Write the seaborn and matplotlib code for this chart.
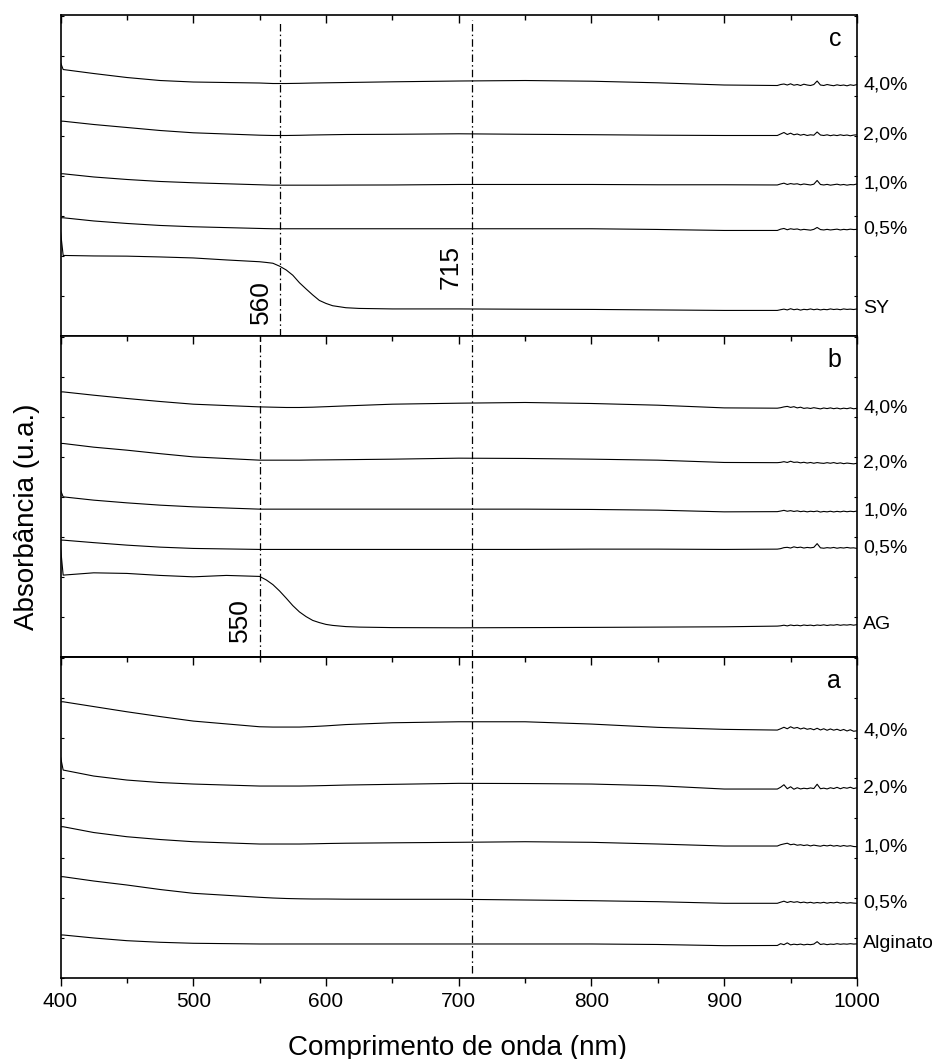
import matplotlib
matplotlib.use("Agg")
import matplotlib.pyplot as plt
from matplotlib.ticker import MultipleLocator
import pandas as pd
import seaborn as sns

# Wavelength grids (nm)
wl_main = [400, 402, 425, 450, 475, 500, 550, 560, 570, 580, 590, 600, 615,
           650, 700, 750, 800, 850, 900, 940]
wl_dye = [400, 402, 425, 450, 475, 500, 525, 550, 555, 560, 565, 570, 575, 580,
          585, 590, 595, 600, 605, 615, 625, 650, 700, 750, 800, 850, 900, 940]
wl_tail = [942.5, 945, 947.5, 950, 952.5, 955, 957.5, 960, 962.5, 965, 967.5, 970,
           972.5, 975, 977.5, 980, 982.5, 985, 987.5, 990, 992.5, 995, 997.5, 1000]

# Panel c: SY series (stacked absorbance, arbitrary units)
c_40 = [2.735, 2.665, 2.625, 2.585, 2.555, 2.54, 2.53, 2.525, 2.525, 2.527, 2.53, 2.532, 2.535,
        2.542, 2.55, 2.555, 2.548, 2.532, 2.51, 2.505]
c_40_tail = [2.515, 2.52, 2.51, 2.522, 2.508, 2.515, 2.505, 2.518, 2.51, 2.505, 2.515, 2.55,
             2.51, 2.505, 2.515, 2.508, 2.503, 2.512, 2.505, 2.51, 2.502, 2.512, 2.506, 2.515]
c_20 = [2.148, 2.148, 2.115, 2.085, 2.055, 2.032, 2.008, 2.005, 2.005, 2.007, 2.01, 2.012, 2.015,
        2.017, 2.022, 2.017, 2.013, 2.008, 2.005, 2.005]
c_20_tail = [2.02, 2.035, 2.015, 2.028, 2.012, 2.02, 2.008, 2.016, 2.005, 2.012, 2.008, 2.04,
             2.01, 2.005, 2.012, 2.003, 2.01, 2.004, 2.012, 2.005, 2.01, 2.002, 2.009, 2.012]
c_10 = [1.622, 1.622, 1.59, 1.565, 1.545, 1.532, 1.512, 1.508, 1.508, 1.508, 1.508, 1.508, 1.509,
        1.51, 1.515, 1.515, 1.515, 1.512, 1.512, 1.51]
c_10_tail = [1.52, 1.528, 1.515, 1.524, 1.518, 1.522, 1.512, 1.52, 1.515, 1.51, 1.518, 1.555,
             1.515, 1.51, 1.516, 1.508, 1.513, 1.518, 1.51, 1.515, 1.508, 1.514, 1.512, 1.52]
c_05 = [1.182, 1.182, 1.15, 1.125, 1.105, 1.092, 1.075, 1.072, 1.072, 1.072, 1.072, 1.072, 1.072,
        1.072, 1.072, 1.072, 1.072, 1.065, 1.055, 1.055]
c_05_tail = [1.068, 1.075, 1.062, 1.072, 1.066, 1.07, 1.06, 1.066, 1.062, 1.058, 1.066, 1.085,
             1.064, 1.06, 1.066, 1.06, 1.064, 1.068, 1.06, 1.066, 1.062, 1.068, 1.064, 1.066]
c_sy = [1.045, 0.805, 0.80, 0.798, 0.79, 0.78, 0.76, 0.742, 0.735, 0.727, 0.698, 0.66, 0.607,
        0.532, 0.47, 0.41, 0.355, 0.325, 0.302, 0.282, 0.275, 0.27, 0.27, 0.267, 0.265, 0.26,
        0.255, 0.255]
c_sy_tail = [0.262, 0.268, 0.26, 0.272, 0.262, 0.268, 0.258, 0.266, 0.262, 0.27, 0.262, 0.268,
             0.26, 0.266, 0.262, 0.27, 0.264, 0.268, 0.262, 0.27, 0.265, 0.268, 0.264, 0.27]

# Panel b: AG series
b_40 = [2.65, 2.65, 2.617, 2.584, 2.554, 2.527, 2.50, 2.497, 2.494, 2.494, 2.497, 2.502, 2.51,
        2.527, 2.537, 2.544, 2.534, 2.517, 2.49, 2.487]
b_40_tail = [2.492, 2.5, 2.505, 2.495, 2.502, 2.49, 2.497, 2.485, 2.49, 2.484, 2.492, 2.486,
             2.48, 2.489, 2.483, 2.49, 2.482, 2.488, 2.48, 2.487, 2.482, 2.49, 2.481, 2.486]
b_20 = [2.134, 2.134, 2.097, 2.067, 2.032, 2.00, 1.967, 1.967, 1.967, 1.967, 1.969, 1.97, 1.972,
        1.977, 1.987, 1.984, 1.977, 1.967, 1.944, 1.942]
b_20_tail = [1.945, 1.952, 1.944, 1.956, 1.945, 1.948, 1.94, 1.946, 1.938, 1.944, 1.936, 1.943,
             1.938, 1.935, 1.942, 1.936, 1.943, 1.934, 1.94, 1.932, 1.938, 1.934, 1.93, 1.936]
b_10 = [1.667, 1.60, 1.567, 1.54, 1.517, 1.50, 1.477, 1.477, 1.477, 1.477, 1.477, 1.477, 1.477,
        1.477, 1.477, 1.477, 1.474, 1.467, 1.45, 1.452]
b_10_tail = [1.458, 1.465, 1.456, 1.462, 1.454, 1.46, 1.452, 1.457, 1.45, 1.456, 1.452, 1.458,
             1.448, 1.454, 1.45, 1.456, 1.449, 1.455, 1.45, 1.457, 1.451, 1.456, 1.452, 1.458]
b_05 = [1.167, 1.167, 1.142, 1.117, 1.097, 1.084, 1.074, 1.074, 1.074, 1.074, 1.074, 1.074, 1.074,
        1.074, 1.074, 1.074, 1.077, 1.077, 1.074, 1.077]
b_05_tail = [1.082, 1.092, 1.095, 1.088, 1.1, 1.092, 1.097, 1.088, 1.094, 1.09, 1.095, 1.132,
             1.09, 1.086, 1.092, 1.088, 1.094, 1.086, 1.092, 1.088, 1.094, 1.088, 1.09, 1.084]
b_ag = [1.097, 0.817, 0.84, 0.834, 0.814, 0.80, 0.814, 0.804, 0.769, 0.722, 0.659, 0.587, 0.512,
        0.449, 0.402, 0.364, 0.342, 0.324, 0.314, 0.302, 0.297, 0.292, 0.29, 0.292, 0.294, 0.297,
        0.30, 0.307]
b_ag_tail = [0.31, 0.316, 0.309, 0.318, 0.312, 0.316, 0.31, 0.318, 0.313, 0.317, 0.311, 0.318,
             0.314, 0.32, 0.313, 0.319, 0.316, 0.322, 0.315, 0.32, 0.317, 0.322, 0.316, 0.322]

# Panel a: alginate series
a_40 = [2.76, 2.76, 2.712, 2.66, 2.612, 2.567, 2.51, 2.507, 2.507, 2.507, 2.512, 2.519, 2.532,
        2.55, 2.56, 2.56, 2.537, 2.504, 2.484, 2.477]
a_40_tail = [2.49, 2.505, 2.49, 2.51, 2.495, 2.503, 2.488, 2.498, 2.485, 2.492, 2.48, 2.495,
             2.478, 2.49, 2.475, 2.488, 2.476, 2.485, 2.472, 2.483, 2.468, 2.48, 2.465, 2.47]
a_20 = [2.21, 2.077, 2.017, 1.977, 1.952, 1.937, 1.917, 1.917, 1.917, 1.917, 1.919, 1.922, 1.927,
        1.934, 1.944, 1.942, 1.937, 1.92, 1.887, 1.887]
a_20_tail = [1.905, 1.93, 1.89, 1.91, 1.885, 1.9, 1.888, 1.895, 1.89, 1.898, 1.892, 1.935,
             1.89, 1.896, 1.888, 1.9, 1.892, 1.904, 1.89, 1.902, 1.895, 1.905, 1.892, 1.9]
a_10 = [1.51, 1.51, 1.452, 1.41, 1.382, 1.36, 1.337, 1.337, 1.337, 1.337, 1.339, 1.342, 1.345,
        1.349, 1.354, 1.36, 1.354, 1.337, 1.317, 1.317]
a_10_tail = [1.33, 1.338, 1.345, 1.33, 1.336, 1.325, 1.33, 1.322, 1.328, 1.318, 1.326, 1.32,
             1.315, 1.324, 1.318, 1.325, 1.316, 1.322, 1.314, 1.322, 1.315, 1.32, 1.312, 1.31]
a_05 = [1.01, 1.01, 0.967, 0.927, 0.882, 0.844, 0.804, 0.797, 0.792, 0.789, 0.787, 0.787, 0.785,
        0.784, 0.784, 0.777, 0.77, 0.76, 0.744, 0.744]
a_05_tail = [0.755, 0.765, 0.752, 0.762, 0.754, 0.76, 0.75, 0.756, 0.748, 0.754, 0.746, 0.752,
             0.747, 0.754, 0.745, 0.752, 0.748, 0.755, 0.746, 0.752, 0.745, 0.75, 0.746, 0.744]
a_alg = [0.427, 0.427, 0.397, 0.37, 0.354, 0.344, 0.337, 0.337, 0.337, 0.337, 0.337, 0.337, 0.337,
         0.337, 0.337, 0.337, 0.337, 0.332, 0.32, 0.322]
a_alg_tail = [0.34, 0.33, 0.348, 0.328, 0.335, 0.33, 0.336, 0.328, 0.334, 0.33, 0.336, 0.36,
              0.332, 0.338, 0.33, 0.336, 0.333, 0.34, 0.334, 0.338, 0.335, 0.34, 0.336, 0.338]

labels_c = ["4,0%", "2,0%", "1,0%", "0,5%", "SY"]
labels_b = ["4,0%", "2,0%", "1,0%", "0,5%", "AG"]
labels_a = ["4,0%", "2,0%", "1,0%", "0,5%", "Alginato"]

panels = [
    ("c", labels_c, [(wl_main, c_40, c_40_tail), (wl_main, c_20, c_20_tail),
                     (wl_main, c_10, c_10_tail), (wl_main, c_05, c_05_tail),
                     (wl_dye, c_sy, c_sy_tail)]),
    ("b", labels_b, [(wl_main, b_40, b_40_tail), (wl_main, b_20, b_20_tail),
                     (wl_main, b_10, b_10_tail), (wl_main, b_05, b_05_tail),
                     (wl_dye, b_ag, b_ag_tail)]),
    ("a", labels_a, [(wl_main, a_40, a_40_tail), (wl_main, a_20, a_20_tail),
                     (wl_main, a_10, a_10_tail), (wl_main, a_05, a_05_tail),
                     (wl_main, a_alg, a_alg_tail)]),
]

x_ticks = [400, 500, 600, 700, 800, 900, 1000]

sns.set_style("ticks")
plt.rcParams["font.family"] = ["Liberation Sans", "DejaVu Sans"]
plt.rcParams.update({"text.color": "black", "axes.edgecolor": "black",
                     "axes.labelcolor": "black", "xtick.color": "black",
                     "ytick.color": "black"})

fig, axes = plt.subplots(3, 1, figsize=(9.38, 10.59), dpi=100, sharex=True,
                         gridspec_kw=dict(hspace=0))
fig.subplots_adjust(left=0.0645, right=0.9136, top=0.9858, bottom=0.0768)

dash_dot = (0, (6, 2.5, 1.2, 2.5))

for ax, (letter, names, series) in zip(axes, panels):
    frames = []
    for name, (grid, vals, tail) in zip(names, series):
        frames.append(pd.DataFrame({"wl": grid + wl_tail, "abs": vals + tail,
                                    "amostra": name}))
    df = pd.concat(frames, ignore_index=True)
    sns.lineplot(data=df, x="wl", y="abs", units="amostra", estimator=None, sort=False,
                 color="black", linewidth=0.8, ax=ax, legend=False)
    for name, (grid, vals, tail) in zip(names, series):
        ax.annotate(name, xy=(1, tail[-1]), xycoords=("axes fraction", "data"),
                    xytext=(4.5, 0), textcoords="offset points",
                    ha="left", va="center", fontsize=14, annotation_clip=False)
    ax.text(0.98, 0.903, letter, transform=ax.transAxes, ha="right", va="baseline",
            fontsize=18)
    ax.set_xlim(400, 1000)
    ax.set_ylim(0, 3.21)
    ax.set_xlabel("")
    ax.set_ylabel("")
    ax.xaxis.set_major_locator(MultipleLocator(100))
    ax.xaxis.set_minor_locator(MultipleLocator(50))
    ax.yaxis.set_major_locator(MultipleLocator(0.4))
    ax.tick_params(axis="y", which="both", left=True, right=True, direction="in",
                   length=2.5, width=0.8, labelleft=False)
    for sp in ax.spines.values():
        sp.set_visible(True)
        sp.set_linewidth(1.2)
        sp.set_color("black")
    ax.tick_params(axis="x", which="both", top=True, bottom=False, direction="in",
                   labelbottom=False, width=1.0)
    ax.tick_params(axis="x", which="major", length=6)
    ax.tick_params(axis="x", which="minor", length=3.6)

ax_c, ax_b, ax_a = axes

# Reference wavelengths
ax_c.axvline(565, ymin=0, ymax=0.979, color="black", lw=0.9, ls=dash_dot)
ax_c.axvline(710, ymin=0, ymax=0.984, color="black", lw=0.9, ls=dash_dot)
ax_b.axvline(550, ymin=0, ymax=1, color="black", lw=0.9, ls=dash_dot)
ax_b.axvline(710, ymin=0, ymax=1, color="black", lw=0.9, ls=dash_dot)
ax_a.axvline(710, ymin=0.015, ymax=1, color="black", lw=0.9, ls=dash_dot)

ax_c.text(551, 0.34, "560", rotation=90, ha="center", va="center", fontsize=19)
ax_c.text(694, 0.69, "715", rotation=90, ha="center", va="center", fontsize=19)
ax_b.text(535, 0.367, "550", rotation=90, ha="center", va="center", fontsize=19)

# Bottom panel: outward ticks with labels, plus inward ticks along the top edge
ax_a.tick_params(axis="x", which="both", top=False, bottom=True, direction="out",
                 labelbottom=True, labelsize=15, pad=4)
ax_a.set_xticks(x_ticks)
ax_a.set_xticklabels([str(t) for t in x_ticks])
top = ax_a.secondary_xaxis("top")
top.xaxis.set_major_locator(MultipleLocator(100))
top.xaxis.set_minor_locator(MultipleLocator(50))
top.tick_params(axis="x", which="both", direction="in", labeltop=False, width=1.0,
                color="black")
top.tick_params(axis="x", which="major", length=6)
top.tick_params(axis="x", which="minor", length=3.6)
top.spines["top"].set_linewidth(1.2)
top.spines["top"].set_color("black")

fig.text(0.488, 0.004, "Comprimento de onda (nm)", ha="center", va="baseline", fontsize=20)
fig.text(0.029, 1 - 517 / 1059, "Absorbância (u.a.)", rotation=90, ha="center",
         va="center", fontsize=20)

fig.savefig("out.png", dpi=100)
